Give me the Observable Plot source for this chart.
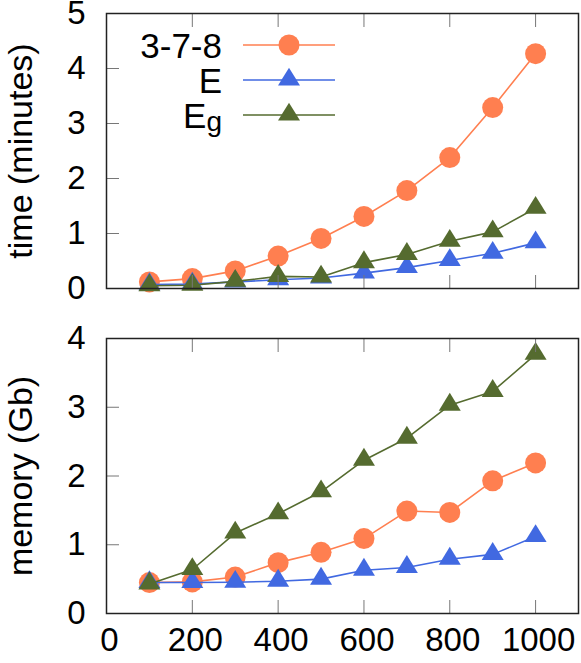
<!DOCTYPE html>
<html><head><meta charset="utf-8">
<script src="https://cdn.jsdelivr.net/npm/d3@7"></script>
<script src="https://cdn.jsdelivr.net/npm/@observablehq/plot@0.6"></script>
<style>
html,body{margin:0;padding:0;background:#fff;}
#wrap{position:relative;width:581px;height:663px;font-family:"Liberation Sans",Arial,sans-serif;}
#wrap svg{display:block;}
#wrap [aria-label="y-axis label"] text{font-size:34px;}
#legend{position:absolute;left:0;top:0;}
</style></head><body><div id="wrap"></div>
<script>
// ---- data ----
const sizes = [100, 200, 300, 400, 500, 600, 700, 800, 900, 1000];
const seriesNames = ["3-7-8", "E", "Eg"];
const seriesColors = ["#ff7f50", "#4169e1", "#556b2f"];
const time378 = [0.12, 0.18, 0.32, 0.59, 0.91, 1.31, 1.78, 2.38, 3.29, 4.27];
const timeE   = [0.07, 0.08, 0.12, 0.16, 0.19, 0.28, 0.38, 0.51, 0.64, 0.83];
const timeEg  = [0.05, 0.06, 0.13, 0.22, 0.21, 0.47, 0.62, 0.86, 1.03, 1.46];
const mem378  = [0.45, 0.46, 0.53, 0.74, 0.89, 1.09, 1.49, 1.47, 1.93, 2.19];
const memE    = [0.45, 0.45, 0.455, 0.47, 0.50, 0.63, 0.67, 0.79, 0.86, 1.12];
const memEg   = [0.43, 0.64, 1.17, 1.45, 1.77, 2.23, 2.55, 3.03, 3.23, 3.77];
const xTicks = [0, 200, 400, 600, 800, 1000];
const timeTicks = [0, 1, 2, 3, 4, 5];
const memTicks = [0, 1, 2, 3, 4];

// gnuplot-style filled triangle (point sits ~2/3 down from apex)
const gTri = {
  draw(ctx, size) {
    const r = Math.sqrt(size / Math.PI);
    ctx.moveTo(0, -1.12 * r);
    ctx.lineTo(r, 0.5 * r);
    ctx.lineTo(-r, 0.5 * r);
    ctx.closePath();
  }
};
const fmt = d => String(d);

function rows(valuesList) {
  return valuesList.map((vals, i) => sizes.map((x, j) => ({x, y: vals[j], s: seriesNames[i]})));
}

function panel({series, yDomain, yTicks, ylabel, height, mt, mb, showX}) {
  const marks = [];
  series.forEach((d, i) => {
    marks.push(Plot.line(d, {x: "x", y: "y", stroke: seriesColors[i], strokeWidth: 1.6}));
    marks.push(Plot.dot(d, {x: "x", y: "y", r: i === 0 ? 10.5 : 11, fill: seriesColors[i], stroke: "none", symbol: i === 0 ? "circle" : gTri}));
  });
  marks.push(
    Plot.axisY({ticks: yTicks, anchor: "left", tickSize: -13, stroke: "#777", fill: "none", label: null}),
    Plot.axisY({ticks: yTicks, anchor: "left", tickSize: 0, tickPadding: 21, tickFormat: fmt, label: ylabel, labelAnchor: "center", labelArrow: "none", labelOffset: 99, fill: "black"}),
    Plot.axisX({ticks: xTicks, anchor: "bottom", tickSize: -13, stroke: "#777", fill: "none", label: null}),
    Plot.axisX({ticks: xTicks, anchor: "top", tickSize: -13, stroke: "#777", fill: "none", label: null})
  );
  if (showX) marks.push(Plot.axisX({ticks: xTicks, anchor: "bottom", tickSize: 0, tickPadding: 14, dx: 3, tickFormat: fmt, label: null, fill: "black"}));
  marks.push(Plot.frame({stroke: "#222", strokeWidth: 1.5}));
  return Plot.plot({
    width: 581, height,
    marginLeft: 106, marginRight: 3, marginTop: mt, marginBottom: mb,
    style: {fontFamily: '"Liberation Sans", Arial, sans-serif', fontSize: "33px", background: "white", color: "black", overflow: "visible"},
    x: {domain: [0, 1100]},
    y: {domain: yDomain},
    marks
  });
}

const wrap = document.getElementById("wrap");
wrap.appendChild(panel({series: rows([time378, timeE, timeEg]), yDomain: [0, 5], yTicks: timeTicks, ylabel: "time (minutes)", height: 300, mt: 13, mb: 12, showX: false}));
wrap.appendChild(panel({series: rows([mem378, memE, memEg]), yDomain: [0, 4], yTicks: memTicks, ylabel: "memory (Gb)", height: 363, mt: 38, mb: 50, showX: true}));

// ---- legend overlay ----
const leg = d3.select(wrap).append("svg").attr("id", "legend").attr("width", 581).attr("height", 300)
  .style("font-family", '"Liberation Sans", Arial, sans-serif');
seriesNames.forEach((name, i) => {
  const base = 58 + i * 35;
  const ly = base - 13;
  const t = leg.append("text").attr("x", 222).attr("y", base).attr("text-anchor", "end").attr("font-size", 35).attr("fill", "black");
  if (name === "Eg") {
    t.append("tspan").text("E");
    t.append("tspan").attr("font-size", 28).attr("dy", 3).text("g");
  } else t.text(name);
  leg.append("line").attr("x1", 243).attr("x2", 335).attr("y1", ly).attr("y2", ly).attr("stroke", seriesColors[i]).attr("stroke-width", 1.6);
  if (i === 0) leg.append("circle").attr("cx", 289).attr("cy", ly).attr("r", 10.5).attr("fill", seriesColors[i]);
  else {
    const p = d3.path(); gTri.draw(p, Math.PI * 11 * 11);
    leg.append("path").attr("d", p.toString()).attr("transform", `translate(289,${ly})`).attr("fill", seriesColors[i]);
  }
});
</script></body></html>
